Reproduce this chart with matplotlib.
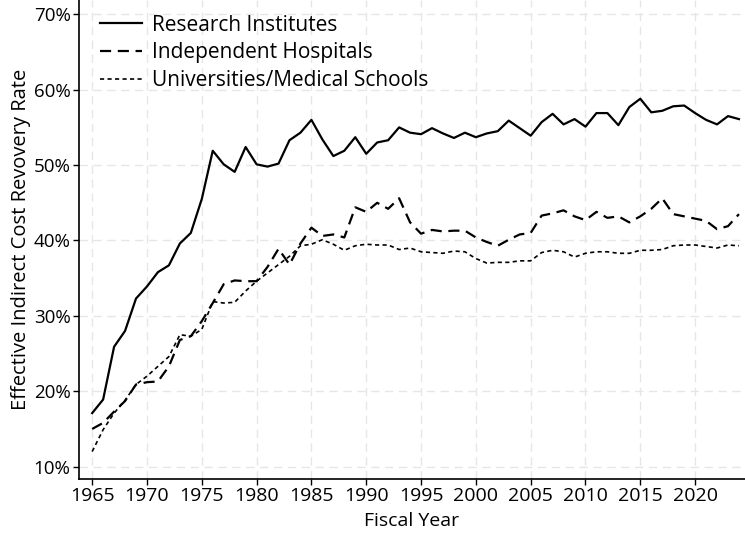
import numpy as np
import matplotlib
matplotlib.use("Agg")
import matplotlib.pyplot as plt
from matplotlib.ticker import FuncFormatter

plt.rcParams['font.family'] = ['Open Sans', 'DejaVu Sans']

years = np.arange(1965, 2025)

research = [17.1, 18.9, 25.9, 28.0, 32.3, 33.9, 35.8, 36.7, 39.6, 41.0,
            45.5, 51.9, 50.1, 49.1, 52.4, 50.1, 49.8, 50.2, 53.3, 54.3,
            56.0, 53.4, 51.2, 51.9, 53.7, 51.5, 53.0, 53.3, 55.0, 54.3,
            54.1, 54.9, 54.2, 53.6, 54.3, 53.7, 54.2, 54.5, 55.9, 54.9,
            53.9, 55.7, 56.8, 55.4, 56.1, 55.1, 56.9, 56.9, 55.3, 57.7,
            58.8, 57.0, 57.2, 57.8, 57.9, 56.9, 56.0, 55.4, 56.5, 56.1]

hospitals = [15.0, 15.8, 17.3, 18.7, 20.9, 21.2, 21.3, 23.3, 26.8, 27.3,
             29.3, 31.7, 34.2, 34.7, 34.6, 34.6, 36.5, 38.9, 36.8, 39.6,
             41.7, 40.6, 40.8, 40.4, 44.4, 43.8, 45.0, 44.2, 45.6, 42.4,
             40.9, 41.4, 41.2, 41.3, 41.3, 40.4, 39.8, 39.3, 40.1, 40.8,
             41.0, 43.3, 43.6, 44.0, 43.2, 42.7, 43.8, 43.0, 43.2, 42.4,
             43.2, 44.2, 45.6, 43.5, 43.2, 42.9, 42.6, 41.5, 41.9, 43.5]

universities = [12.0, 14.9, 17.1, 18.8, 20.9, 22.0, 23.3, 24.6, 27.5, 27.3,
                28.2, 31.9, 31.7, 31.8, 33.3, 34.6, 35.7, 36.8, 37.9, 39.3,
                39.5, 40.1, 39.5, 38.7, 39.3, 39.5, 39.4, 39.4, 38.8, 39.0,
                38.5, 38.4, 38.3, 38.6, 38.5, 37.6, 37.0, 37.1, 37.1, 37.3,
                37.3, 38.4, 38.7, 38.5, 37.8, 38.3, 38.5, 38.5, 38.3, 38.3,
                38.7, 38.7, 38.8, 39.3, 39.4, 39.4, 39.2, 39.0, 39.4, 39.3]

fig = plt.figure(figsize=(7.45, 5.33), dpi=100)
ax = fig.add_axes([79/745, 54/533, 666/745, 479/533])

ax.plot(years, research, '-', color='black', lw=1.6, label='Research Institutes')
ax.plot(years, hospitals, color='black', lw=1.6, dashes=(5, 3),
        label='Independent Hospitals')
ax.plot(years, universities, color='black', lw=1.2, dashes=(2.5, 2),
        label='Universities/Medical Schools')

ax.set_xlim(1963.8, 2024.55)
ax.set_ylim(8.36, 71.9)
ax.set_xticks(np.arange(1965, 2021, 5))
ax.set_yticks(np.arange(10, 71, 10))
ax.yaxis.set_major_formatter(FuncFormatter(lambda v, p: '%d%%' % v))

ax.grid(True, color='#e6e6e6', linestyle=(0, (6, 4)), lw=1)
ax.set_axisbelow(True)
for s in ['top', 'right']:
    ax.spines[s].set_visible(False)
ax.spines['left'].set_linewidth(1.2)
ax.spines['bottom'].set_linewidth(1.2)
ax.tick_params(axis='x', labelsize=14, length=4, width=1, pad=2)
ax.tick_params(axis='y', labelsize=13.5, length=4, width=1, pad=2)

ax.set_xlabel('Fiscal Year', fontsize=14, labelpad=5)
ax.set_ylabel('Effective Indirect Cost Revovery Rate', fontsize=14.5, labelpad=2)

ax.legend(loc='upper left', frameon=False, fontsize=15, handlelength=2.0,
          handletextpad=0.5, borderaxespad=0.3, labelspacing=0.33,
          bbox_to_anchor=(0.01, 1.0))

fig.savefig('out.png', dpi=100)
